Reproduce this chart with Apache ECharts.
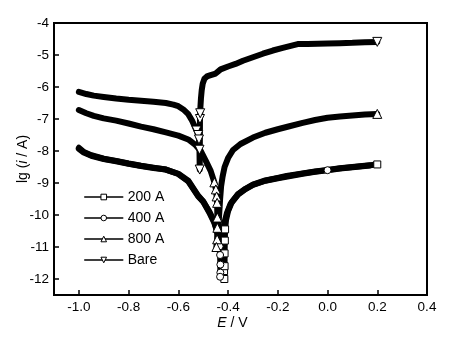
<!DOCTYPE html>
<html><head><meta charset="utf-8">
<script src="https://cdn.jsdelivr.net/npm/echarts@6/dist/echarts.min.js"></script>
<style>html,body{margin:0;padding:0;background:#fff}#c{width:458px;height:344px}</style>
</head><body><div id="c"></div>
<script>
// ---- data (E / V, lg(i/A)) ----
const seriesNames = ['200 A', '400 A', '800 A', 'Bare'];
const xTicks = [-1.0, -0.8, -0.6, -0.4, -0.2, 0.0, 0.2, 0.4];
const yTicks = [-4, -5, -6, -7, -8, -9, -10, -11, -12];

const data200 = [
  [-1.00,-7.93],[-0.98,-8.05],[-0.95,-8.15],[-0.90,-8.25],[-0.85,-8.32],[-0.80,-8.40],
  [-0.75,-8.47],[-0.70,-8.53],[-0.65,-8.58],[-0.60,-8.72],[-0.56,-8.95],[-0.52,-9.42],
  [-0.50,-9.58],[-0.475,-9.90],[-0.455,-10.22],[-0.44,-10.60],[-0.43,-10.95],[-0.420,-11.20],
  [-0.416,-11.75],[-0.415,-12.00],[-0.414,-11.60],[-0.414,-11.20],[-0.413,-10.80],[-0.412,-10.45],
  [-0.408,-10.15],[-0.40,-9.88],[-0.385,-9.60],[-0.36,-9.35],[-0.33,-9.18],[-0.30,-9.05],
  [-0.25,-8.92],[-0.20,-8.84],[-0.165,-8.78],[-0.10,-8.70],[-0.05,-8.64],[0.00,-8.59],
  [0.05,-8.54],[0.10,-8.50],[0.15,-8.46],[0.20,-8.42]
];
const data400 = [
  [-1.00,-7.90],[-0.98,-8.03],[-0.95,-8.13],[-0.90,-8.24],[-0.85,-8.31],[-0.80,-8.39],
  [-0.75,-8.46],[-0.70,-8.52],[-0.65,-8.58],[-0.60,-8.71],[-0.56,-8.93],[-0.52,-9.40],
  [-0.50,-9.58],[-0.475,-9.93],[-0.455,-10.25],[-0.44,-10.62],[-0.434,-10.98],[-0.432,-11.25],
  [-0.431,-11.55],[-0.431,-11.80],[-0.432,-11.93],[-0.428,-11.40],[-0.426,-11.00],[-0.422,-10.60],
  [-0.415,-10.25],[-0.405,-9.95],[-0.39,-9.65],[-0.36,-9.36],[-0.33,-9.19],[-0.30,-9.06],
  [-0.25,-8.93],[-0.20,-8.85],[-0.10,-8.71],[-0.05,-8.65],[0.00,-8.60],[0.05,-8.55],
  [0.10,-8.51],[0.15,-8.47],[0.17,-8.45]
];
const data800 = [
  [-1.00,-6.72],[-0.97,-6.82],[-0.94,-6.90],[-0.90,-6.98],[-0.85,-7.05],[-0.80,-7.14],
  [-0.75,-7.24],[-0.70,-7.32],[-0.65,-7.42],[-0.60,-7.52],[-0.56,-7.64],[-0.53,-7.82],
  [-0.51,-8.00],[-0.49,-8.30],[-0.47,-8.62],[-0.455,-8.98],[-0.449,-9.20],[-0.446,-9.42],
  [-0.444,-9.62],[-0.443,-10.08],[-0.443,-10.40],[-0.444,-10.76],[-0.447,-11.00],[-0.440,-10.50],
  [-0.436,-10.00],[-0.432,-9.50],[-0.428,-9.10],[-0.422,-8.80],[-0.414,-8.50],[-0.40,-8.22],
  [-0.38,-7.97],[-0.35,-7.78],[-0.30,-7.58],[-0.25,-7.43],[-0.20,-7.32],[-0.165,-7.25],
  [-0.10,-7.12],[-0.05,-7.03],[0.00,-6.96],[0.05,-6.92],[0.10,-6.89],[0.15,-6.86],[0.20,-6.84]
];
const dataBare = [
  [-1.00,-6.15],[-0.97,-6.22],[-0.94,-6.27],[-0.90,-6.31],[-0.85,-6.36],[-0.80,-6.40],
  [-0.75,-6.43],[-0.70,-6.46],[-0.65,-6.50],[-0.62,-6.55],[-0.60,-6.60],[-0.58,-6.70],
  [-0.56,-6.85],[-0.545,-7.05],[-0.535,-7.22],[-0.527,-7.36],[-0.520,-7.50],[-0.517,-7.64],
  [-0.515,-7.96],[-0.514,-8.58],[-0.513,-7.00],[-0.512,-6.82],[-0.511,-6.60],[-0.509,-6.35],
  [-0.506,-6.10],[-0.502,-5.90],[-0.495,-5.74],[-0.485,-5.67],[-0.47,-5.63],[-0.45,-5.58],
  [-0.43,-5.45],[-0.40,-5.36],[-0.37,-5.28],[-0.34,-5.18],[-0.30,-5.07],[-0.26,-4.96],
  [-0.22,-4.86],[-0.18,-4.78],[-0.14,-4.70],[-0.12,-4.66],[-0.08,-4.66],[-0.04,-4.65],
  [0.00,-4.64],[0.05,-4.63],[0.10,-4.62],[0.15,-4.60],[0.20,-4.59]
];
// indices of the points whose hollow markers stay visible
const markers200 = [18,19,20,21,22,23, data200.length-1];
const markers400 = [16,17,18,19,20,34];
const markers800 = [15,16,17,18,19,20,21,22, data800.length-1];
const markersBare = [15,16,17,18,19,20,21, dataBare.length-1];

const FONT = 'Liberation Sans, Arial, sans-serif';
function mk(name, data, marks, symbol, size, rot) {
  const set = new Set(marks);
  return {
    name: name, type: 'line', data: data,
    symbol: symbol, symbolRotate: rot || 0,
    symbolSize: function (v, p) { return set.has(p.dataIndex) ? size : 0; },
    showSymbol: true,
    lineStyle: { color: '#000', width: 6, join: 'round', cap: 'round' },
    itemStyle: { color: '#fff', borderColor: '#000', borderWidth: 1 },
    emphasis: { disabled: true },
    animation: false
  };
}
const chart = echarts.init(document.getElementById('c'), null, { renderer: 'canvas' });
chart.setOption({
  animation: false,
  backgroundColor: '#fff',
  grid: { left: 54, right: 31, top: 23, bottom: 49 },
  legend: {
    data: seriesNames, orient: 'vertical', left: 79, top: 185,
    itemWidth: 38, itemHeight: 7, itemGap: 7,
    textStyle: { fontFamily: FONT, fontSize: 14, color: '#000' },
    lineStyle: { width: 1.5, color: '#000' },
    itemStyle: { color: '#fff', borderColor: '#000', borderWidth: 1 }
  },
  xAxis: {
    type: 'value', min: -1.1, max: 0.4,
    name: '{i|E} / V', nameLocation: 'middle', nameGap: 21, nameMoveOverlap: false,
    nameTextStyle: { fontFamily: FONT, fontSize: 14, color: '#000', padding: [0, 16, 0, 0], rich: { i: { fontStyle: 'italic', fontFamily: FONT, fontSize: 14 } } },
    axisLine: { show: true, onZero: false, lineStyle: { color: '#000', width: 2 } },
    axisTick: { show: true, inside: true, length: 5, customValues: xTicks, lineStyle: { color: '#000', width: 1.5 } },
    axisLabel: { customValues: xTicks, formatter: function (v) { return v.toFixed(1); }, fontFamily: FONT, fontSize: 13.5, color: '#000', margin: 5 },
    splitLine: { show: false }
  },
  yAxis: {
    type: 'value', min: -12.5, max: -4,
    name: 'lg ({i|i} / A)', nameLocation: 'middle', nameGap: 24, nameRotate: 90, nameMoveOverlap: false,
    nameTextStyle: { fontFamily: FONT, fontSize: 14, color: '#000', rich: { i: { fontStyle: 'italic', fontFamily: FONT, fontSize: 14 } } },
    axisLine: { show: true, onZero: false, lineStyle: { color: '#000', width: 2 } },
    axisTick: { show: true, inside: true, length: 5, customValues: yTicks, lineStyle: { color: '#000', width: 1.5 } },
    axisLabel: { customValues: yTicks, formatter: function (v) { return String(v); }, fontFamily: FONT, fontSize: 13.5, color: '#000', margin: 5 },
    splitLine: { show: false }
  },
  series: [
    mk('200 A', data200, markers200, 'rect', 7),
    mk('400 A', data400, markers400, 'circle', 7),
    mk('800 A', data800, markers800, 'triangle', 9),
    mk('Bare', dataBare, markersBare, 'triangle', 9, 180)
  ]
});
// frame around the plot area, taken from the grid's own rectangle
const gridRect = chart.getModel().getComponent('grid').coordinateSystem.getRect();
chart.setOption({
  graphic: [{
    type: 'rect', z: 100, silent: true,
    shape: { x: gridRect.x, y: gridRect.y, width: gridRect.width, height: gridRect.height },
    style: { fill: 'none', stroke: '#000', lineWidth: 2 }
  }]
});
</script>
</body></html>
